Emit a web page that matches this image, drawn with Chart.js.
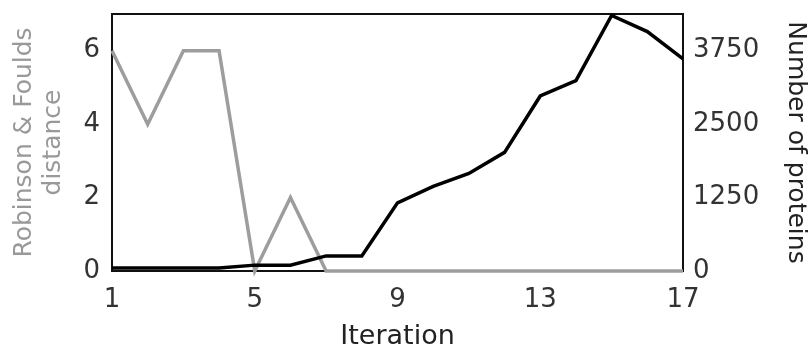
<!DOCTYPE html>
<html><head><meta charset="utf-8">
<script src="https://cdn.jsdelivr.net/npm/chart.js@4/dist/chart.umd.min.js"></script>
<style>html,body{margin:0;padding:0;background:#fff}#wrap{width:809px;height:349px}</style>
</head><body><div id="wrap"><canvas id="c" width="809" height="349"></canvas></div>
<script>
const iterations = [1,2,3,4,5,6,7,8,9,10,11,12,13,14,15,16,17];
const rfDistance = [6,4,6,6,0,2,0,0,0,0,0,0,0,0,0,0,0];
const numProteins = [50,50,50,50,100,100,257,257,1160,1440,1660,2020,2980,3240,4350,4075,3610];
const xTicks = [1,5,9,13,17];
const leftTicks = [0,2,4,6];
const rightTicks = [0,1250,2500,3750];

const FONT = 'DejaVu Sans';
const frame = {
  id:'frame',
  beforeDatasetsDraw(chart){
    const a = chart.chartArea, ctx = chart.ctx;
    ctx.save(); ctx.strokeStyle = '#111'; ctx.lineWidth = 2;
    ctx.strokeRect(a.left, a.top, a.right-a.left, a.bottom-a.top);
    ctx.restore();
  }
};
new Chart(document.getElementById('c'), {
  type:'line',
  data:{ datasets:[
    {label:'proteins', data: iterations.map((x,i)=>({x, y:numProteins[i]})), yAxisID:'y2', borderColor:'#000', borderWidth:3.5, pointRadius:0, tension:0, clip:false, order:0},
    {label:'rf', data: iterations.map((x,i)=>({x, y:rfDistance[i]})), yAxisID:'y', borderColor:'#9d9d9d', borderWidth:3.5, pointRadius:0, tension:0, clip:false, order:1}
  ]},
  options:{
    responsive:false, animation:false,
    layout:{padding:{top:14,left:0,right:0,bottom:0}},
    plugins:{legend:{display:false}, tooltip:{enabled:false}},
    scales:{
      x:{type:'linear', min:1, max:17,
        afterBuildTicks(s){ s.ticks = xTicks.map(v=>({value:v})); },
        afterFit(s){ s.height = 78; },
        grid:{display:false, drawTicks:false}, border:{display:false},
        ticks:{color:'#333', font:{family:FONT,size:26}, padding:14, maxRotation:0, autoSkip:false},
        title:{display:true, text:'Iteration', color:'#222', font:{family:FONT,size:27}, padding:{top:0,bottom:-4}}
      },
      y:{position:'left', min:0, max:7,
        afterBuildTicks(s){ s.ticks = leftTicks.map(v=>({value:v})); },
        afterFit(s){ s.width = 112; s.paddingTop = 0; s.paddingBottom = 0; },
        grid:{display:false, drawTicks:false}, border:{display:false},
        ticks:{color:'#333', font:{family:FONT,size:26}, padding:12},
        title:{display:true, text:['Robinson & Foulds','distance'], color:'#999', font:{family:FONT,size:25, lineHeight:1.16}, padding:{top:10,bottom:0}}
      },
      y2:{position:'right', min:0, max:4375,
        afterBuildTicks(s){ s.ticks = rightTicks.map(v=>({value:v})); },
        afterFit(s){ s.width = 126; s.paddingTop = 0; s.paddingBottom = 0; },
        grid:{display:false, drawTicks:false}, border:{display:false},
        ticks:{color:'#333', font:{family:FONT,size:26}, padding:10, callback:(v)=>String(v)},
        title:{display:true, text:'Number of proteins', color:'#222', font:{family:FONT,size:25}, padding:{top:-1,bottom:0}}
      }
    }
  },
  plugins:[frame]
});
</script></body></html>
